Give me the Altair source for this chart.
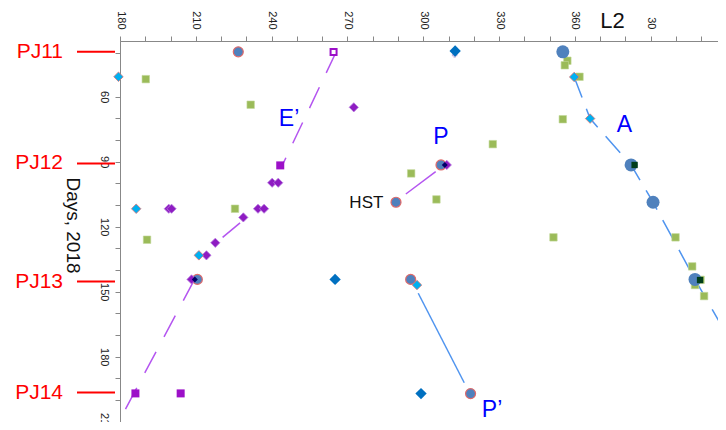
import altair as alt
import pandas as pd

FONT = "Liberation Sans"

# ---------------- data (L2 longitude in degrees, unwrapped past 360; day of 2018) ----------------
green_L = [190.2, 231.7, 225.5, 190.7, 327.5, 295.2, 305.2, 357.0, 356.0, 361.8, 355.2,
           351.5, 399.8, 406.4, 409.7, 407.5, 411.1]
green_d = [51.9, 63.7, 111.7, 126.0, 81.9, 95.4, 107.4, 43.4, 45.5, 50.8, 70.4,
           124.9, 124.9, 138.3, 144.5, 146.9, 152.0]

bigcirc_L = [355.2, 382.2, 390.9, 407.5]
bigcirc_d = [39.3, 91.5, 108.7, 144.3]

redcirc_L = [226.8, 210.6, 307.0, 289.2, 295.0, 318.7]
redcirc_d = [39.3, 144.3, 91.5, 108.7, 144.3, 197.0]

cyan_L = [179.4, 186.4, 211.2, 297.5, 359.7, 366.0]
cyan_d = [50.8, 111.7, 133.2, 146.9, 50.9, 70.1]

purpdia_L = [272.5, 240.2, 242.6, 199.3, 200.4, 234.6, 237.0, 228.8, 217.7, 214.2, 208.3, 309.3]
purpdia_d = [64.9, 99.7, 99.7, 111.7, 111.7, 111.7, 111.7, 115.7, 127.4, 133.2, 144.3, 91.5]

darkdia_L = [312.6, 265.1, 299.1]
darkdia_d = [38.9, 144.3, 197.0]

navydia_L = [209.6, 308.5]
navydia_d = [144.3, 91.5]

purpsq_L = [243.4, 186.1, 204.0]
purpsq_d = [91.7, 196.9, 196.9]

hollow_L = [264.5]
hollow_d = [39.4]

darkgreen_L = [383.6, 409.5]
darkgreen_d = [91.5, 144.6]

cross_L = [312.4]
cross_d = [40.8]

# lines
e_upper_L = [265.5, 244.2]
e_upper_d = [39.4, 91.7]
e_mid_L = [220.6, 227.5]
e_mid_d = [124.9, 118.2]
e_lower_L = [209.5, 178.6]
e_lower_d = [144.3, 212.0]
p_L = [293.1, 304.9]
p_d = [104.9, 94.6]
pprime_L = [298.0, 316.2]
pprime_d = [150.7, 192.0]
a_L = [359.7, 366.0, 382.2, 390.9, 407.5, 440.8]
a_d = [50.9, 70.1, 91.5, 108.7, 144.3, 212.0]

# annotations
ann_text = ["E\u2019", "P", "A", "P\u2019"]
ann_L = [246.9, 307.0, 379.6, 327.2]
ann_d = [70.3, 78.4, 73.1, 204.6]
hst_text = ["HST"]
hst_L = [284.2]
hst_d = [109.1]

pj_names = ["PJ11", "PJ12", "PJ13", "PJ14"]
pj_days = [39.3, 90.8, 145.3, 196.5]

x_ticks = list(range(180, 420, 10))
y_ticks = list(range(40, 211, 10))

# ---------------- scales / axes ----------------
xs = alt.Scale(domain=[180, 416.6], nice=False, zero=False)
ys = alt.Scale(domain=[34.3, 210.1], nice=False, zero=False, reverse=True)

xax = alt.Axis(orient="top", values=x_ticks,
               labelExpr="datum.value % 30 == 0 ? (datum.value > 360 ? datum.value - 360 : datum.value) : ''",
               labelAngle=90, labelFontSize=11, labelFont=FONT, labelColor="#222",
               labelOverlap=False, labelFlush=False, labelPadding=7,
               tickSize=5, tickColor="#888", domainColor="#888", grid=False,
               title="L2", titleFont=FONT, titleFontSize=22, titleFontWeight="normal",
               titleColor="#111", titleX=492, titleY=-21, titleAlign="center",
               titleBaseline="middle", titleAngle=0)
yax = alt.Axis(orient="left", values=y_ticks,
               labelExpr="datum.value % 30 == 0 ? datum.value : ''",
               labelAngle=90, labelFontSize=11, labelFont=FONT, labelColor="#222",
               labelOverlap=False, labelFlush=False, labelPadding=6,
               tickSize=5, tickColor="#888", domainColor="#888", grid=False,
               title="Days, 2018", titleFont=FONT, titleFontSize=19, titleFontWeight="normal",
               titleColor="#111", titleAngle=90, titleX=-48, titleY=184,
               titleAlign="center", titleBaseline="middle")


def X():
    return alt.X("L:Q", scale=xs, axis=xax)


def Y():
    return alt.Y("d:Q", scale=ys, axis=yax)


def df(L, d, **extra):
    out = pd.DataFrame({"L": L, "d": d})
    for k, v in extra.items():
        out[k] = v
    return out


def line(L, d, color, dash=None, clip=False):
    data = df(L, d, o=list(range(len(L))))
    kw = dict(color=color, strokeWidth=1.5, clip=clip)
    if dash:
        kw["strokeDash"] = dash
    return alt.Chart(data).mark_line(**kw).encode(x=X(), y=Y(), order="o:Q")


def pts(L, d, shape, fill, size, stroke=None, sw=0, filled=True, opacity=1):
    kw = dict(shape=shape, size=size, opacity=opacity, fillOpacity=1)
    if filled:
        kw["filled"] = True
        kw["color"] = fill
    else:
        kw["filled"] = False
        kw["color"] = stroke
    if stroke and filled:
        kw["stroke"] = stroke
        kw["strokeWidth"] = sw
    elif not filled:
        kw["strokeWidth"] = sw
        kw["fill"] = "white"
    return alt.Chart(df(L, d)).mark_point(**kw).encode(x=X(), y=Y())


PURPLE_LINE = "#b455f0"
BLUE_LINE = "#4f94ef"

layers = [
    line(e_upper_L, e_upper_d, PURPLE_LINE, dash=[23, 16]),
    line(e_mid_L, e_mid_d, PURPLE_LINE),
    line(e_lower_L, e_lower_d, PURPLE_LINE, dash=[24, 17], clip=True),
    line(p_L, p_d, PURPLE_LINE),
    line(pprime_L, pprime_d, BLUE_LINE),
    line(a_L, a_d, BLUE_LINE, dash=[22, 12], clip=True),
    pts(green_L, green_d, "square", "#9bbb59", 56, stroke="#c3d89a", sw=0.6),
    pts(purpsq_L, purpsq_d, "square", "#9c10c8", 64),
    pts(hollow_L, hollow_d, "square", None, 36, stroke="#9c10c8", sw=2, filled=False),
    pts(cross_L, cross_d, "cross", "#b8a8d8", 30, opacity=0.8),
    pts(bigcirc_L, bigcirc_d, "circle", "#4f81bd", 169),
    pts(redcirc_L, redcirc_d, "circle", "#4f81bd", 100, stroke="#e06a6a", sw=1.2),
    pts(purpdia_L, purpdia_d, "diamond", "#8e1cc2", 85, stroke="#b77ae0", sw=0.8),
    pts(cyan_L, cyan_d, "diamond", "#00b0f0", 90, stroke="#e07070", sw=0.8),
    pts(darkdia_L, darkdia_d, "diamond", "#0070c0", 128),
    pts(navydia_L, navydia_d, "diamond", "#000066", 36),
    pts(darkgreen_L, darkgreen_d, "square", "#003d1a", 40),
    alt.Chart(df(ann_L, ann_d, t=ann_text)).mark_text(
        font=FONT, fontSize=23, color="#0000ff", align="center", baseline="middle"
    ).encode(x=X(), y=Y(), text="t:N"),
    alt.Chart(df(hst_L, hst_d, t=hst_text)).mark_text(
        font=FONT, fontSize=17, color="#111111", align="right", baseline="middle"
    ).encode(x=X(), y=Y(), text="t:N"),
    alt.Chart(pd.DataFrame({"d": pj_days, "name": pj_names})).mark_rule(
        color="#ff0000", strokeWidth=2
    ).encode(y=Y(), x=alt.value(-43), x2=alt.value(-5)),
    alt.Chart(pd.DataFrame({"d": pj_days, "name": pj_names})).mark_text(
        font=FONT, fontSize=21, color="#ff0000", align="right", baseline="middle"
    ).encode(y=Y(), x=alt.value(-57), text="name:N"),
]

chart = alt.layer(*layers).properties(
    width=598, height=381,
    autosize=alt.AutoSizeParams(type="none"),
    padding={"left": 112, "top": 33, "right": 0, "bottom": 0},
    background="white",
).configure_view(stroke="#999", strokeWidth=1)

chart.save("out.html", embed_options={"renderer": "svg", "actions": False})
